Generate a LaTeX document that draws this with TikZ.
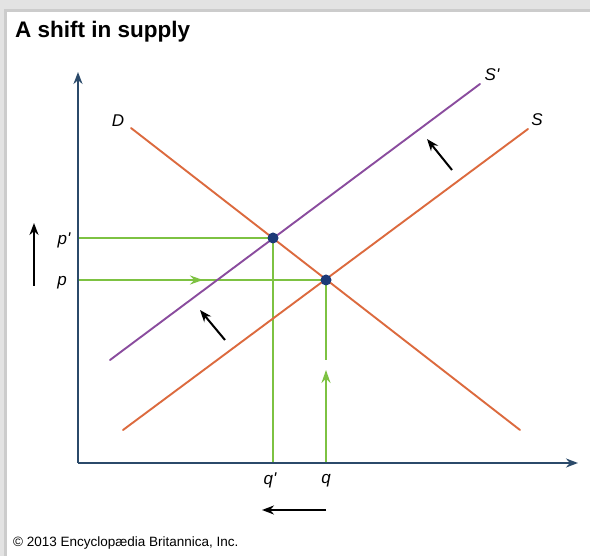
\documentclass[tikz,border=0pt]{standalone}
\usepackage{fontspec}
\setmainfont{Liberation Sans}
\usetikzlibrary{arrows.meta}
\definecolor{axisc}{HTML}{2B4A6A}
\definecolor{curveo}{HTML}{DC6A3E}
\definecolor{curvep}{HTML}{8A4C9E}
\definecolor{greenc}{HTML}{7DC242}
\definecolor{dotc}{HTML}{1C3A78}
\tikzset{
  axis/.style={draw=axisc, line width=2pt, -{Stealth[length=12pt,width=9pt]}},
  curve/.style={line width=1.9pt, line cap=round},
  guide/.style={draw=greenc, line width=2pt},
  garrow/.style={draw=greenc, line width=2pt, -{Stealth[length=13pt,width=9pt]}},
  karrow/.style={draw=black, line width=2pt, -{Stealth[length=12pt,width=9pt]}},
  lbl/.style={font=\fontsize{17}{20}\selectfont\itshape, inner sep=0pt},
  dot/.style={circle, fill=dotc, minimum size=11pt, inner sep=0pt},
}
\newcommand{\pr}{\textquotesingle}
\begin{document}
\begin{tikzpicture}[x=1pt, y=-1pt]
\useasboundingbox (0,0) rectangle (590,556);
\fill[gray!22] (0,0) rectangle (590,556);
\fill[gray!40] (4,9) rectangle (590,556);
\fill[white] (7,12) rectangle (590,556);
% title
\node[anchor=base west, inner sep=0pt, font=\fontsize{22.5}{26}\selectfont\bfseries] (title) at (15,38) {A shift in supply};
% axes
\coordinate (O) at (78,463);
\coordinate (ytop) at (78,72);
\coordinate (xend) at (578,463);
% curves
\coordinate (d1) at (131,128); \coordinate (d2) at (520,430);
\coordinate (s1) at (123,430); \coordinate (s2) at (528,129);
\coordinate (sp1) at (110,360); \coordinate (sp2) at (480,84);
% equilibrium points
\coordinate (A) at (273,238);
\coordinate (B) at (326,280);
\coordinate (Ay) at (78,238); \coordinate (Ax) at (273,463);
\coordinate (By) at (78,280); \coordinate (Bx) at (326,463);
\coordinate (pmid) at (203,280);
\coordinate (gtop) at (326,360);
\coordinate (gtip) at (326,370);
% guides
\draw[guide] (Ay) -- (A);
\draw[guide] (A) -- (Ax);
\draw[guide] (By) -- (B);
\draw[garrow] (By) -- (pmid);
\draw[guide] (B) -- (gtop);
\draw[garrow] (Bx) -- (gtip);
% curves
\draw[curve, draw=curveo] (d1) -- (d2);
\draw[curve, draw=curveo] (s1) -- (s2);
\draw[curve, draw=curvep] (sp1) -- (sp2);
% axes
\draw[axis] (O) -- (ytop);
\draw[axis] (O) -- (xend);
% dots
\node[dot] (ptA) at (A) {};
\node[dot] (ptB) at (B) {};
% labels
\node[lbl] (lD) at (118,121) {D};
\node[lbl] (lS) at (537,120) {S};
\node[lbl] (lSp) at (492,75) {S\pr};
\node[lbl] (lpp) at (64,240) {p\pr};
\node[lbl] (lp) at (62,283) {p};
\node[lbl] (lqp) at (270,480) {q\pr};
\node[lbl] (lq) at (326,481) {q};
% black arrows
\coordinate (u1) at (34,286); \coordinate (u2) at (34,223);
\draw[karrow] (u1) -- (u2);
\coordinate (l1) at (326,510); \coordinate (l2) at (262,510);
\draw[karrow] (l1) -- (l2);
\coordinate (a1) at (225,340); \coordinate (a2) at (200,310);
\draw[karrow] (a1) -- (a2);
\coordinate (b1) at (452,170); \coordinate (b2) at (427,139);
\draw[karrow] (b1) -- (b2);
% credit
\node[anchor=base west, inner sep=0pt, font=\fontsize{13.5}{16}\selectfont] (credit) at (13,547) {© 2013 Encyclopædia Britannica, Inc.};
\end{tikzpicture}
\end{document}
